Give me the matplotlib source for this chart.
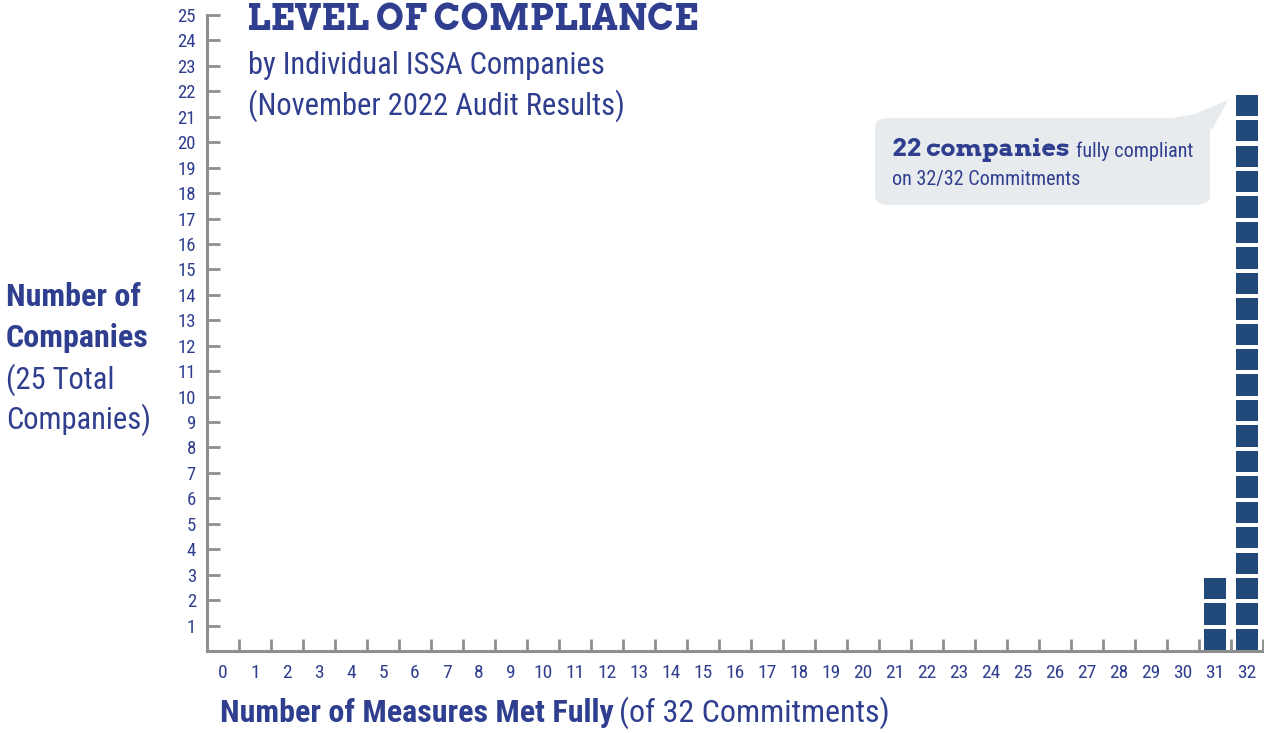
import matplotlib
matplotlib.use("Agg")
import matplotlib.pyplot as plt
from matplotlib.patches import FancyBboxPatch, Polygon

W, H = 1264, 733
BLUE = "#2f3e8f"
SQUARE = "#214a7b"
GREY = "#8f8f8f"
BUBBLE = "#e8ebee"

NARROW = ["Roboto Condensed", "Archivo Narrow", "DejaVu Sans"]
SLAB = ["Arvo", "DejaVu Serif"]

# data: number of companies per number of measures met fully
measures = list(range(33))
counts = [0] * 31 + [3, 22]
y_ticks = list(range(1, 26))

fig = plt.figure(figsize=(W / 100, H / 100), dpi=100)
ax = fig.add_axes([207 / W, 1 - 651 / H, 1056 / W, 636 / H])

# stacked squares, one per company
xs, bottoms = [], []
for m, c in zip(measures, counts):
    for k in range(c):
        xs.append(m)
        bottoms.append(k + 0.03)
ax.bar(xs, 0.84, bottom=bottoms, width=0.66, color=SQUARE, linewidth=0, zorder=3)

ax.set_xlim(-0.5, 32.5)
ax.set_ylim(0, 25)
for s in ("top", "right"):
    ax.spines[s].set_visible(False)
for s in ("left", "bottom"):
    ax.spines[s].set_color(GREY)
    ax.spines[s].set_linewidth(2.2)

ax.set_yticks(y_ticks)
ax.set_yticklabels([str(v) for v in y_ticks], fontfamily=NARROW, fontsize=13.5, color=BLUE)
ax.tick_params(axis="y", direction="in", length=9, width=2, color=GREY, pad=8)

ax.set_xticks(measures)
ax.set_xticklabels([str(v) for v in measures], fontfamily=NARROW, fontsize=14, color=BLUE)
ax.tick_params(axis="x", which="major", length=0, pad=9)
ax.set_xticks([m + 0.5 for m in measures], minor=True)
ax.tick_params(axis="x", which="minor", direction="in", length=9, width=2, color=GREY)


def fx(px):
    return px / W


def fy(py):
    return 1 - py / H


# title block
fig.text(fx(247), fy(21), "LEVEL OF COMPLIANCE", fontfamily=SLAB, fontweight="bold",
         fontsize=25.7, color=BLUE, va="center", ha="left")
fig.text(fx(248), fy(65), "by Individual ISSA Companies", fontfamily=NARROW,
         fontsize=22, color=BLUE, va="center")
fig.text(fx(248), fy(106), "(November 2022 Audit Results)", fontfamily=NARROW,
         fontsize=22, color=BLUE, va="center")

# y-axis label
fig.text(fx(6), fy(297), "Number of", fontfamily=NARROW, fontweight="bold",
         fontsize=23, color=BLUE, va="center")
fig.text(fx(6), fy(338), "Companies", fontfamily=NARROW, fontweight="bold",
         fontsize=23, color=BLUE, va="center")
fig.text(fx(6), fy(380), "(25 Total", fontfamily=NARROW,
         fontsize=22, color=BLUE, va="center")
fig.text(fx(6), fy(420), "Companies)", fontfamily=NARROW,
         fontsize=22, color=BLUE, va="center")

# x-axis label, bold part then regular part
renderer = fig.canvas.get_renderer()
t = fig.text(fx(220), fy(713), "Number of Measures Met Fully", fontfamily=NARROW,
             fontweight="bold", fontsize=23, color=BLUE, va="center")
bb = t.get_window_extent(renderer)
fig.text(bb.x1 / W + 0.004, fy(713), "(of 32 Commitments)", fontfamily=NARROW,
         fontsize=23, color=BLUE, va="center")

# callout bubble
box = FancyBboxPatch((fx(875), fy(205)), fx(335), 87 / H,
                     boxstyle="round,pad=0,rounding_size=0.012",
                     transform=fig.transFigure, facecolor=BUBBLE, edgecolor="none")
fig.patches.append(box)
tail = Polygon([(fx(1165), fy(119)), (fx(1195), fy(114)), (fx(1228), fy(100)),
                (fx(1212), fy(130)), (fx(1205), fy(119))],
               closed=True, transform=fig.transFigure, facecolor=BUBBLE, edgecolor="none")
fig.patches.append(tail)
t2 = fig.text(fx(892), fy(149), "22 companies", fontfamily=SLAB, fontweight="bold",
              fontsize=18, color=BLUE, va="center")
bb2 = t2.get_window_extent(renderer)
fig.text(bb2.x1 / W + 0.005, fy(151), "fully compliant", fontfamily=NARROW,
         fontsize=14.5, color=BLUE, va="center")
fig.text(fx(892), fy(179), "on 32/32 Commitments", fontfamily=NARROW,
         fontsize=14.5, color=BLUE, va="center")

fig.savefig("out.png", dpi=100)
